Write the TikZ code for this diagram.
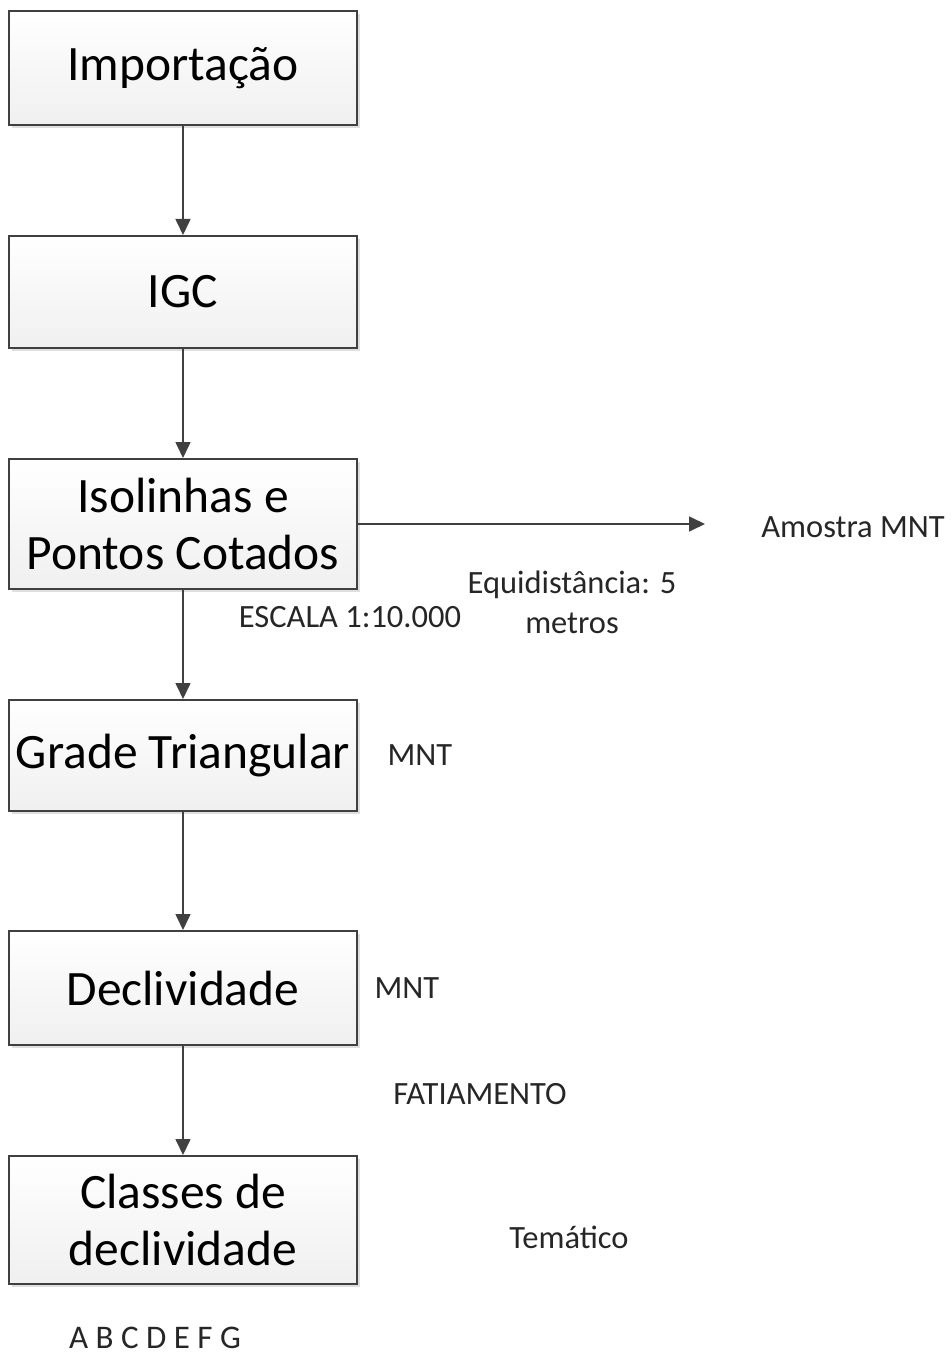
\documentclass[tikz,border=0pt]{standalone}
\usepackage{fontspec}
\setmainfont{Carlito}
\usetikzlibrary{positioning,shadows,arrows.meta}

\definecolor{linegray}{HTML}{404040}

\begin{document}
\begin{tikzpicture}[x=1pt, y=-1pt, node distance=109pt, auto,
    >={Triangle[length=16pt,width=15pt]},
    stepbox/.style={draw=linegray, line width=1.6pt, rectangle, minimum width=348pt,
        minimum height=114.4pt, align=center, font=\fontsize{49.5}{57}\selectfont,
        top color=white, bottom color=gray!12, inner sep=0pt,
        drop shadow={shadow xshift=3pt, shadow yshift=-3pt, opacity=0.25}},
    note/.style={align=center, font=\fontsize{32.5}{40}\selectfont, text=black!85},
    flow/.style={->, draw=linegray, line width=1.6pt}]
    \useasboundingbox (0,0) rectangle (951,1356);

    \node[stepbox] (import) at (183,68) {Importação};
    \node[stepbox, minimum height=112.4pt, below=of import] (igc) {IGC};
    \node[stepbox, minimum height=130.4pt, below=of igc] (iso) {
        Isolinhas e\\
        Pontos Cotados
    };
    \node[stepbox, minimum height=111.4pt, below=of iso] (grade) {Grade Triangular};
    \node[stepbox, below=118pt of grade] (decl) {Declividade};
    \node[stepbox, minimum height=128.4pt, below=of decl] (classes) {
        Classes de\\
        declividade
    };

    \coordinate (amostraend) at (705,524);
    \node[note] (amostra) at (853,527) {Amostra MNT};
    \node[note] (equid) at (572,602) {Equidistância: 5\\metros};
    \node[note] (escala) at (350,617) {ESCALA 1:10.000};
    \node[note] (mnta) at (420,755) {MNT};
    \node[note] (mntb) at (407,988) {MNT};
    \node[note] (fatia) at (480,1094) {FATIAMENTO};
    \node[note] (tema) at (569,1237) {Temático};
    \node[note, inner sep=0pt, font=\fontsize{33}{40}\selectfont] (letras) at (155,1338) {A B C D E F G};

    \draw[flow] (import) -- (igc);
    \draw[flow] (igc) -- (iso);
    \draw[flow] (iso) -- (grade);
    \draw[flow] (grade) -- (decl);
    \draw[flow] (decl) -- (classes);
    \draw[flow] (iso.east |- amostraend) -- (amostraend);
\end{tikzpicture}
\end{document}
